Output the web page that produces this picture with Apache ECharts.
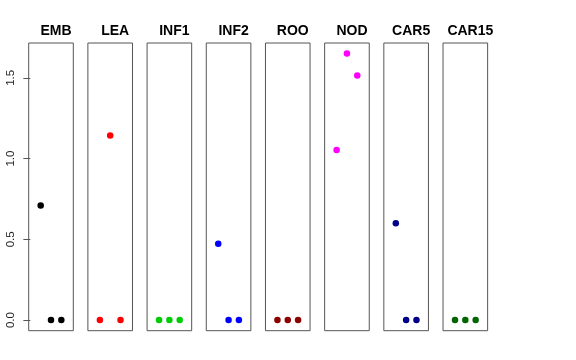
<!DOCTYPE html>
<html><head><meta charset="utf-8">
<script src="https://cdn.jsdelivr.net/npm/echarts@6/dist/echarts.min.js"></script>
<style>html,body{margin:0;padding:0;background:#fff}#c{width:576px;height:360px}</style>
</head><body><div id="c"></div>
<script>
const categories = ['EMB','LEA','INF1','INF2','ROO','NOD','CAR5','CAR15'];
const xPositions = [1, 2, 3];
const valEMB = [0.71, 0, 0];
const valLEA = [0, 1.143, 0];
const valINF1 = [0, 0, 0];
const valINF2 = [0.472, 0, 0];
const valROO = [0, 0, 0];
const valNOD = [1.054, 1.651, 1.515];
const valCAR5 = [0.60, 0, 0];
const valCAR15 = [0, 0, 0];
const yTicks = [0, 0.5, 1.0, 1.5];
const yTickLabels = ['0.0', '0.5', '1.0', '1.5'];

const seriesValues = [valEMB, valLEA, valINF1, valINF2, valROO, valNOD, valCAR5, valCAR15];
const colors = ['#000000','#FF0000','#00CD00','#0000FF','#8B0000','#FF00FF','#00008B','#006400'];

const panelLeft0 = 28.7, panelPitch = 59.19, panelW = 44.6, panelTop = 43, panelH = 287.7;
const grids = [], xAxes = [], yAxes = [], series = [], titles = [];
categories.forEach((name, i) => {
  const l = panelLeft0 + panelPitch * i;
  grids.push({left: l, top: panelTop, width: panelW, height: panelH, show: true, borderColor: '#555', borderWidth: 1, backgroundColor: 'transparent', outerBoundsMode: 'none', containLabel: false});
  xAxes.push({type: 'value', gridIndex: i, min: -0.16, max: 4.16, show: false});
  yAxes.push({type: 'value', gridIndex: i, min: -0.066, max: 1.716, show: i === 0,
    splitLine: {show: false},
    axisLine: {show: false},
    axisTick: {show: true, length: 7, lineStyle: {color: '#555'}, customValues: yTicks},
    axisLabel: {show: true, rotate: 90, margin: 12, fontSize: 11.5, color: '#222', fontFamily: 'Liberation Sans',
      customValues: yTicks, formatter: v => { const k = yTicks.indexOf(Math.round(v*10)/10); return k >= 0 ? yTickLabels[k] : ''; }}
  });
  series.push({type: 'scatter', xAxisIndex: i, yAxisIndex: i, symbolSize: 6.5,
    itemStyle: {color: colors[i], opacity: 1},
    data: xPositions.map((x, k) => [x, seriesValues[i][k]]), silent: true, animation: false});
  titles.push({text: name, left: l + panelW / 2, top: 19, textAlign: 'center',
    textStyle: {fontSize: 14, fontWeight: 'bold', color: '#000', fontFamily: 'Liberation Sans'}});
});

const chart = echarts.init(document.getElementById('c'), null, {renderer: 'canvas'});
chart.setOption({animation: false, title: titles, grid: grids, xAxis: xAxes, yAxis: yAxes, series: series});
</script></body></html>
